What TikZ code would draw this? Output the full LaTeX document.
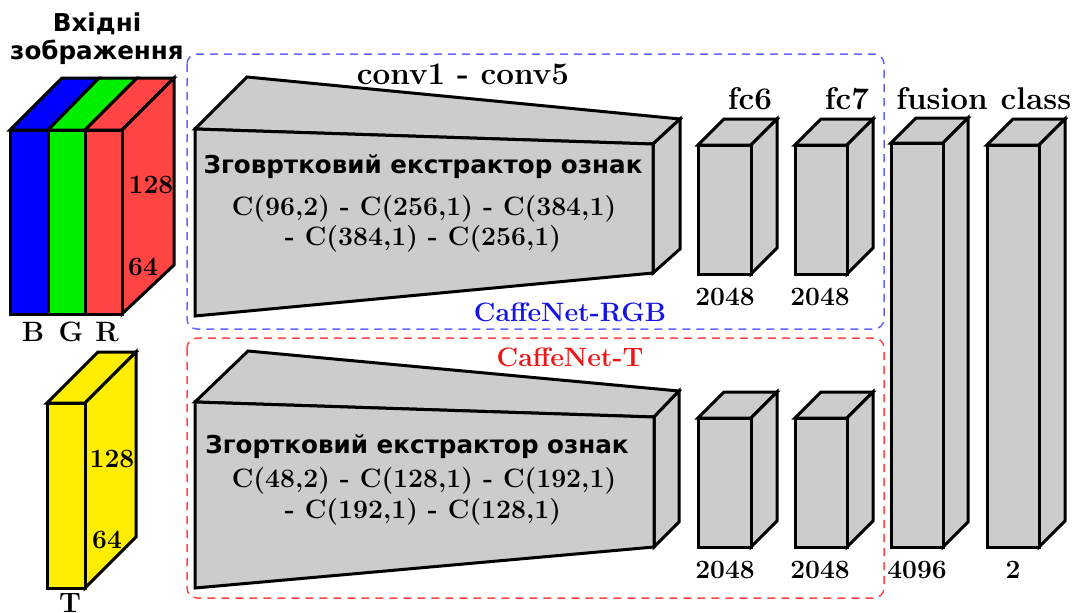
\documentclass[tikz,border=0pt]{standalone}
\usepackage{fontspec}
\newfontfamily\uisans{DejaVu Sans}
\definecolor{layergray}{RGB}{204,204,204}
\definecolor{chB}{RGB}{0,0,255}
\definecolor{chG}{RGB}{0,240,0}
\definecolor{chR}{RGB}{255,68,68}
\definecolor{chT}{RGB}{255,238,0}
\definecolor{rgbline}{RGB}{100,100,255}
\definecolor{tline}{RGB}{255,70,70}
\definecolor{rgbtext}{RGB}{20,20,230}
\definecolor{ttext}{RGB}{240,20,20}
% cuboid: front rectangle (#1,#2)-(#3,#4), depth #5, fill #6
\newcommand\cubebox[6]{%
  \filldraw[edge, fill=#6] (#1,#2) -- (#1+#5,#2-#5) -- (#3+#5,#2-#5) -- (#3,#2) -- cycle;
  \filldraw[edge, fill=#6] (#3,#2) -- (#3+#5,#2-#5) -- (#3+#5,#4-#5) -- (#3,#4) -- cycle;
  \filldraw[edge, fill=#6] (#1,#2) rectangle (#3,#4);
}
\tikzset{
  edge/.style={draw=black, line width=1.5pt},
  group/.style={line width=0.75pt, dash pattern=on 4pt off 3pt, rounded corners=5pt},
  head/.style={font=\fontsize{15.7}{17}\selectfont\bfseries, inner sep=0pt},
  num/.style={font=\fontsize{13.2}{15}\selectfont\bfseries, inner sep=0pt},
  chan/.style={font=\fontsize{14}{16}\selectfont\bfseries, inner sep=0pt},
  formula/.style={font=\fontsize{13.3}{15}\selectfont\bfseries, inner sep=0pt},
  uititle/.style={font=\uisans\fontsize{12.3}{14}\selectfont\bfseries, inner sep=0pt},
}
\begin{document}
\begin{tikzpicture}[x=0.5pt, y=-0.5pt]
\useasboundingbox (0,0) rectangle (1076,612);

% stream groups
\draw[group, rgbline] (187,54) rectangle (884,329);
\draw[group, tline] (187,338) rectangle (884,598);

% input heading
\node[uititle] (inhead1) at (97,24) {Вхідні};
\node[uititle] (inhead2) at (97,52) {зображення};

% RGB input volume
\filldraw[edge, fill=chB] (10,130) -- (62,78) -- (99,78) -- (48,130) -- cycle;
\filldraw[edge, fill=chG] (48,130) -- (99,78) -- (137,78) -- (85,130) -- cycle;
\filldraw[edge, fill=chR] (85,130) -- (137,78) -- (174,78) -- (122,130) -- cycle;
\filldraw[edge, fill=chR] (122,130) -- (174,78) -- (174,265) -- (122,314) -- cycle;
\filldraw[edge, fill=chB] (10,130) rectangle (48,314);
\filldraw[edge, fill=chG] (48,130) rectangle (85,314);
\filldraw[edge, fill=chR] (85,130) rectangle (122,314);
\node[num] (rgbh) at (151,185) {128};
\node[num] (rgbw) at (143,267) {64};
\node[chan] (labB) at (33,332) {B};
\node[chan] (labG) at (71,332) {G};
\node[chan] (labR) at (107,332) {R};

% thermal input volume
\cubebox{47}{403}{85}{588}{51}{chT}
\node[num] (th) at (112,459) {128};
\node[num] (tw) at (107,540) {64};
\node[chan] (labT) at (70,603) {T};

% RGB convolutional extractor
\filldraw[edge, fill=layergray] (195,129) -- (247,77) -- (680,119) -- (653,144) -- cycle;
\filldraw[edge, fill=layergray] (653,144) -- (680,119) -- (680,249) -- (653,273) -- cycle;
\filldraw[edge, fill=layergray] (195,129) -- (653,144) -- (653,273) -- (195,316) -- cycle;
\node[head] (convlab) at (463,74) {conv1 - conv5};
\node[uititle] (rgbtitle) at (423,167) {Зговртковий екстрактор ознак};
\node[formula] (rgbf1) at (424,209) {C(96,2) - C(256,1) - C(384,1)};
\node[formula] (rgbf2) at (423,239) {- C(384,1) - C(256,1)};
\node[formula, rgbtext] (rgbname) at (570,312) {CaffeNet-RGB};

% thermal convolutional extractor
\filldraw[edge, fill=layergray] (195,402) -- (248,351) -- (679,391) -- (654,417) -- cycle;
\filldraw[edge, fill=layergray] (654,417) -- (679,391) -- (679,522) -- (654,547) -- cycle;
\filldraw[edge, fill=layergray] (195,402) -- (654,417) -- (654,547) -- (195,588) -- cycle;
\node[uititle] (ttitle) at (417,447) {Згортковий екстрактор ознак};
\node[formula] (tf1) at (424,481) {C(48,2) - C(128,1) - C(192,1)};
\node[formula] (tf2) at (423,512) {- C(192,1) - C(128,1)};
\node[formula, ttext] (tname) at (570,357) {CaffeNet-T};

% fully connected layers
\cubebox{698}{145}{751}{274}{26}{layergray}
\cubebox{795}{145}{847}{274}{26}{layergray}
\cubebox{698}{418}{751}{547}{26}{layergray}
\cubebox{795}{418}{847}{547}{26}{layergray}
\cubebox{891}{143}{943}{547}{25}{layergray}
\cubebox{987}{145}{1039}{547}{26}{layergray}

\node[head] (fc6lab) at (750,99) {fc6};
\node[head] (fc7lab) at (847,99) {fc7};
\node[head] (fuslab) at (942,99) {fusion};
\node[head] (clslab) at (1036,99) {class};

\node[num] (n1) at (725,297) {2048};
\node[num] (n2) at (820,297) {2048};
\node[num] (n3) at (725,570) {2048};
\node[num] (n4) at (820,570) {2048};
\node[num] (n5) at (917,570) {4096};
\node[num] (n6) at (1013,570) {2};
\end{tikzpicture}
\end{document}
